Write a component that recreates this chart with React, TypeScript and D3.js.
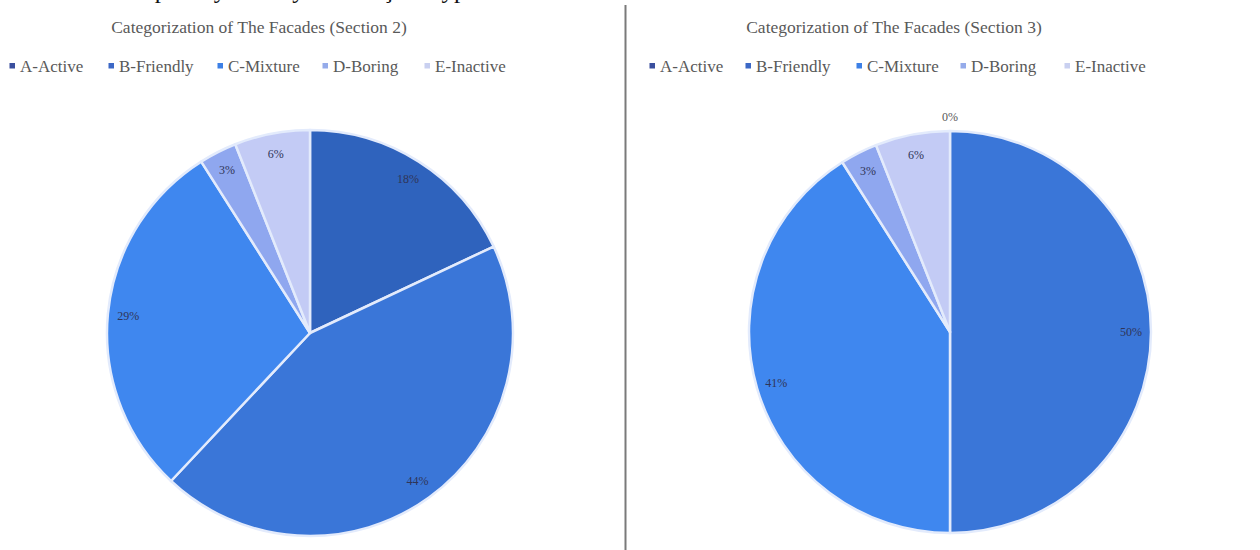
import React from "react";
import * as d3 from "d3";

// Facade categories and their share per section (percent)
const categories = ["A-Active", "B-Friendly", "C-Mixture", "D-Boring", "E-Inactive"];
const section2Values = [18, 44, 29, 3, 6];
const section3Values = [0, 50, 41, 3, 6];
const sliceColors = ["#2f63bd", "#3a76d8", "#3f87ef", "#8fa7ef", "#c3cbf5"];
const legendMarkerColors = ["#3a4f9e", "#3c68c6", "#3d80e6", "#95abea", "#c9d0f0"];
const titles = [
  "Categorization of The Facades (Section 2)",
  "Categorization of The Facades (Section 3)",
];
const topTextLine = "Some of the shops may modify their façade type.";

const W = 1260;
const H = 550;
const FONT = "'Liberation Serif', 'Times New Roman', serif";

type PanelProps = {
  title: string;
  values: number[];
  cx: number;
  cy: number;
  r: number;
  titleX: number;
  legendX: number[];
};

function PiePanel({ title, values, cx, cy, r, titleX, legendX }: PanelProps) {
  const pie = d3
    .pie<number>()
    .sort(null)
    .value((d) => d)
    .startAngle(0)
    .endAngle(2 * Math.PI);
  const arcs = pie(values);
  const arcGen = d3.arc<d3.PieArcDatum<number>>().innerRadius(0).outerRadius(r);
  const total = d3.sum(values);
  const labelR = r * 0.9;

  return (
    <g>
      <text
        x={titleX}
        y={33}
        textAnchor="middle"
        fontFamily={FONT}
        fontSize={17.5}
        fill="#595959"
      >
        {title}
      </text>
      {categories.map((c, i) => (
        <g key={c}>
          <rect x={legendX[i] - 2.5} y={63} width={5.5} height={5.5} fill={legendMarkerColors[i]} />
          <text
            x={legendX[i] + 8}
            y={71.5}
            fontFamily={FONT}
            fontSize={17}
            fill="#595959"
          >
            {c}
          </text>
        </g>
      ))}
      <g transform={`translate(${cx},${cy})`}>
        {arcs.map((a, i) =>
          a.endAngle > a.startAngle ? (
            <path
              key={i}
              d={arcGen(a) || ""}
              fill={sliceColors[i]}
              stroke="#e3ebfc"
              strokeWidth={2.5}
              strokeLinejoin="round"
            />
          ) : null
        )}
        {arcs.map((a, i) => {
          const mid = (a.startAngle + a.endAngle) / 2;
          const rr = a.endAngle > a.startAngle ? labelR : r + 14;
          const x = Math.sin(mid) * rr;
          const y = -Math.cos(mid) * rr;
          const pct = Math.round((values[i] / total) * 100);
          return (
            <text
              key={`l${i}`}
              x={x}
              y={y}
              dy="0.35em"
              textAnchor="middle"
              fontFamily={FONT}
              fontSize={12}
              fill={a.endAngle > a.startAngle ? "#2f3558" : "#595959"}
            >
              {pct}%
            </text>
          );
        })}
      </g>
    </g>
  );
}

export default function App() {
  return (
    <svg
      width={W}
      height={H}
      viewBox={`0 0 ${W} ${H}`}
      style={{ position: "absolute", left: 0, top: 0, background: "#ffffff" }}
    >
      <rect x={0} y={0} width={W} height={H} fill="#ffffff" />
      {/* last line of the preceding paragraph, mostly above the top edge */}
      <text x={-7} y={-2} fontFamily={FONT} fontSize={25} fill="#111111">
        {topTextLine}
      </text>
      <PiePanel
        title={titles[0]}
        values={section2Values}
        cx={310}
        cy={333}
        r={203}
        titleX={259}
        legendX={[12, 111, 220, 325, 427]}
      />
      <line x1={625.5} x2={625.5} y1={5} y2={H} stroke="#7a7a7a" strokeWidth={2} />
      <PiePanel
        title={titles[1]}
        values={section3Values}
        cx={950}
        cy={332}
        r={201}
        titleX={894}
        legendX={[652, 748, 859, 963, 1067]}
      />
    </svg>
  );
}
